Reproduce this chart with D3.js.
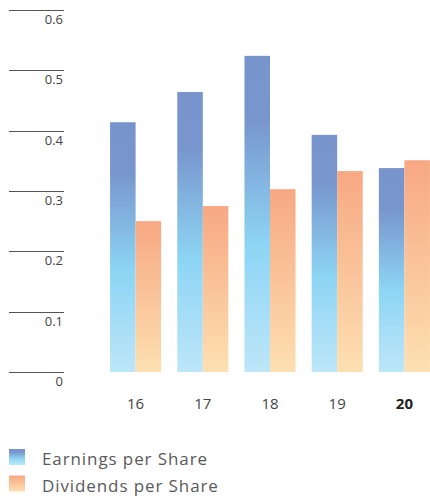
<!DOCTYPE html>
<html><head><meta charset="utf-8">
<script src="https://cdn.jsdelivr.net/npm/d3@7"></script>
<style>body{margin:0;background:#fff}svg{display:block}</style>
</head><body>
<script>
const years = ["16","17","18","19","20"];
const eps = [0.414, 0.464, 0.524, 0.393, 0.338];
const dps = [0.250, 0.275, 0.303, 0.333, 0.351];
const yTicks = [0, 0.1, 0.2, 0.3, 0.4, 0.5, 0.6];
const seriesNames = ["Earnings per Share", "Dividends per Share"];

const W = 430, H = 499;
const svg = d3.select("body").append("svg").attr("width", W).attr("height", H);
const font = "'Open Sans', sans-serif";

const defs = svg.append("defs");
const g1 = defs.append("linearGradient").attr("id","gEps").attr("x1",0).attr("y1",0).attr("x2",0).attr("y2",1);
g1.append("stop").attr("offset","0%").attr("stop-color","#7795cc");
g1.append("stop").attr("offset","20%").attr("stop-color","#7896cd");
g1.append("stop").attr("offset","60%").attr("stop-color","#8dd5f4");
g1.append("stop").attr("offset","100%").attr("stop-color","#bde6f9");
const g2 = defs.append("linearGradient").attr("id","gDps").attr("x1",0).attr("y1",0).attr("x2",0).attr("y2",1);
g2.append("stop").attr("offset","0%").attr("stop-color","#f7a882");
g2.append("stop").attr("offset","100%").attr("stop-color","#fde0b2");

const y = d3.scaleLinear().domain([0, 0.6]).range([372, 10]);
const x = d3.scaleBand().domain(years).range([102, 438]).paddingInner(0.24).paddingOuter(0.12);

// gridlines + labels
const tg = svg.append("g");
yTicks.forEach(t => {
  tg.append("line").attr("x1", 9).attr("x2", 64)
    .attr("y1", Math.round(y(t)) + 0.5).attr("y2", Math.round(y(t)) + 0.5)
    .attr("stroke", "#555").attr("stroke-width", 1);
  tg.append("text").attr("x", 63).attr("y", Math.round(y(t)) + 14)
    .attr("text-anchor", "end").attr("font-family", font).attr("font-size", 13)
    .attr("fill", "#444").text(t === 0 ? "0" : d3.format(".1f")(t));
});

const bw = x.bandwidth() / 2;
svg.append("g").selectAll("rect").data(years).join("rect")
  .attr("x", d => x(d)).attr("width", bw)
  .attr("y", (d,i) => y(eps[i])).attr("height", (d,i) => y(0) - y(eps[i]))
  .attr("fill", "url(#gEps)");
svg.append("g").selectAll("rect").data(years).join("rect")
  .attr("x", d => x(d) + bw).attr("width", bw)
  .attr("y", (d,i) => y(dps[i])).attr("height", (d,i) => y(0) - y(dps[i]))
  .attr("fill", "url(#gDps)");

svg.append("g").selectAll("text").data(years).join("text")
  .attr("x", d => x(d) + x.bandwidth()/2).attr("y", 409)
  .attr("text-anchor", "middle").attr("font-family", font).attr("font-size", 15)
  .attr("font-weight", (d,i) => i === years.length-1 ? "bold" : "normal")
  .attr("fill", (d,i) => i === years.length-1 ? "#222" : "#444").text(d => d);

// legend
const lg = svg.append("g");
["url(#gEps)","url(#gDps)"].forEach((f,i) => {
  lg.append("rect").attr("x", 9).attr("y", 449 + i*26.5).attr("width", 16).attr("height", 16).attr("fill", f);
  lg.append("text").attr("x", 42).attr("y", 465 + i*26.5).attr("font-family", font)
    .attr("font-size", 17).attr("letter-spacing", 0.9).attr("fill", "#5a5a5a").text(seriesNames[i]);
});
</script>
</body></html>
